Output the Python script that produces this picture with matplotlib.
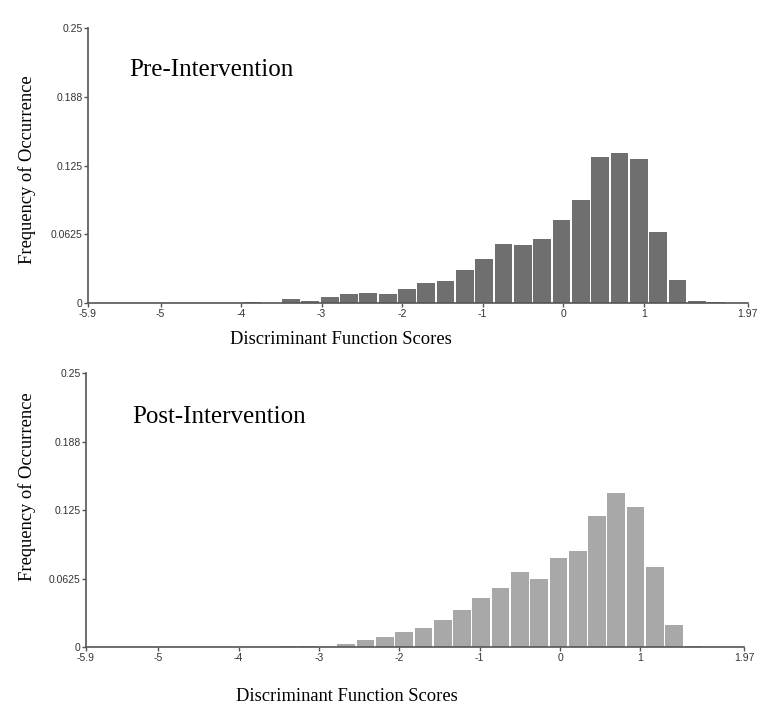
import matplotlib
matplotlib.use('Agg')
import matplotlib.pyplot as plt
import numpy as np

# histogram bins: 33 bins of width 0.24 starting at -5.9
bin_start = -5.9
bin_width = 0.24

pre_freq = [0, 0, 0, 0, 0, 0, 0, 0,
            0.001, 0, 0.0042, 0.0024, 0.006, 0.0085, 0.0094, 0.0085,
            0.0133, 0.0182, 0.020, 0.030, 0.040, 0.054, 0.053, 0.0585,
            0.0758, 0.094, 0.1325, 0.1367, 0.131, 0.0651, 0.0215, 0.0024,
            0.001]

post_freq = [0, 0, 0, 0, 0, 0, 0, 0,
             0, 0, 0.0008, 0.0008, 0, 0.0027, 0.0067, 0.0094,
             0.0142, 0.0179, 0.0252, 0.0343, 0.0453, 0.0545, 0.0684, 0.062,
             0.0812, 0.0879, 0.120, 0.1405, 0.1277, 0.0735, 0.0203, 0.001,
             0]

ytick_vals = [0, 0.0625, 0.125, 0.1875, 0.25]
ytick_labels = ['0', '0.0625', '0.125', '0.188', '0.25']
xtick_vals = [-5.9, -5, -4, -3, -2, -1, 0, 1, 2.29]
xtick_labels = ['-5.9', '-5', '-4', '-3', '-2', '-1', '0', '1', '1.97']

serif = 'Liberation Serif'
sans = 'Liberation Sans'
axis_col = '#555555'
gap = 0.02

fig = plt.figure(figsize=(7.83, 7.24), dpi=100)
ax1 = fig.add_axes([0.1124, 0.5811, 0.8425, 0.3802])
ax2 = fig.add_axes([0.1098, 0.1059, 0.8404, 0.3785])


def draw(ax, freq, color, title, title_pos, xlab_pos, ylab_pos):
    freq = np.array(freq)
    lefts = bin_start + bin_width * np.arange(len(freq))
    keep = freq > 0
    ax.bar(lefts[keep] + gap / 2, freq[keep], width=bin_width - gap,
           align='edge', color=color, linewidth=0, zorder=1)
    ax.set_xlim(-5.9, 2.29)
    ax.set_ylim(0, 0.25)
    for s in ['top', 'right']:
        ax.spines[s].set_visible(False)
    for s in ['left', 'bottom']:
        ax.spines[s].set_color(axis_col)
        ax.spines[s].set_linewidth(1.2)
        ax.spines[s].set_zorder(3)
    ax.set_xticks(xtick_vals)
    ax.set_xticklabels(xtick_labels)
    ax.set_yticks(ytick_vals)
    ax.set_yticklabels(ytick_labels)
    ax.tick_params(direction='out', length=3, width=1, color=axis_col,
                   labelsize=7.5, labelcolor='#333333', pad=1)
    for lab in ax.get_xticklabels() + ax.get_yticklabels():
        lab.set_family(sans)
    ax.text(title_pos[0], title_pos[1], title, transform=ax.transAxes,
            fontsize=18, family=serif, ha='left', va='center')
    ax.text(xlab_pos[0], xlab_pos[1], 'Discriminant Function Scores',
            transform=ax.transAxes, fontsize=13.3, family=serif,
            ha='center', va='center')
    ax.text(ylab_pos[0], ylab_pos[1], 'Frequency of Occurrence',
            transform=ax.transAxes, fontsize=13.3, family=serif,
            ha='center', va='center', rotation=90)


draw(ax1, pre_freq, '#6f6f6f', 'Pre-Intervention',
     (0.063, 0.848), (0.384, -0.133), (-0.093, 0.485))
draw(ax2, post_freq, '#a8a8a8', 'Post-Intervention',
     (0.071, 0.84), (0.397, -0.181), (-0.09, 0.585))

fig.savefig('out.png', dpi=100)
